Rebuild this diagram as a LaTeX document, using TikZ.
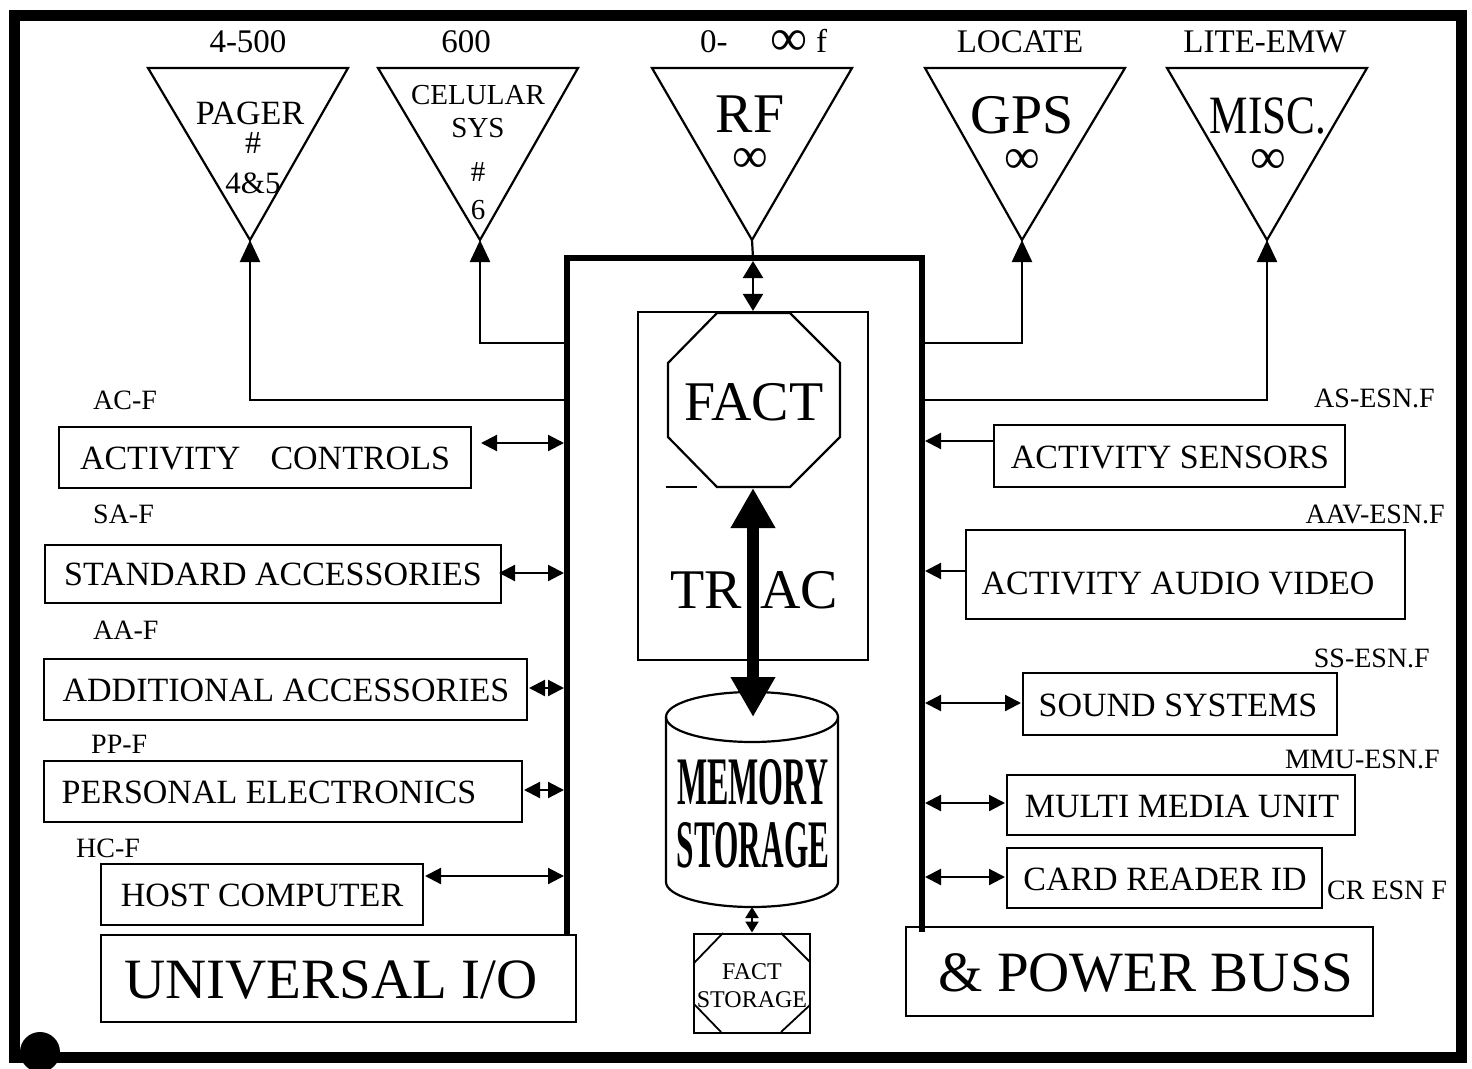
\documentclass[tikz,border=0pt]{standalone}
\usepackage{fontspec}
\setmainfont{Liberation Serif}
\usetikzlibrary{arrows.meta,calc}
\newcommand\fsz[1]{\fontsize{#1}{#1}\selectfont}
\begin{document}
\begin{tikzpicture}[x=1pt,y=-1pt,
  frame/.style={line width=11pt},
  bus/.style={line width=6pt,line join=miter},
  wire/.style={line width=2.2pt},
  shapeline/.style={line width=2.2pt},
  box/.style={draw,line width=2.4pt,inner sep=0pt},
  lbl/.style={inner sep=0pt,font=\fsz{28}},
  toplbl/.style={inner sep=0pt,font=\fsz{33}},
  boxtext/.style={inner sep=0pt,font=\fsz{34}},
  bigtext/.style={inner sep=0pt,font=\fsz{57}},
  anttext/.style={inner sep=0pt,align=center,anchor=north,font=\fsz{56}},
  dbl/.style={wire,{Triangle[length=16pt,width=16pt]}-{Triangle[length=16pt,width=16pt]}},
  sgl/.style={wire,-{Triangle[length=16pt,width=16pt]}},
  uparrow/.style={wire,-{Triangle[length=22pt,width=20pt]}},
]
\useasboundingbox (0,0) rectangle (1472,1068);
\fill[white] (0,0) rectangle (1472,1068);

% outer frame
\draw[frame] (14,15) rectangle (1461,1057);
\fill (40,1052) circle[radius=20pt];

% ---------- antennas ----------
\node[toplbl] (l1) at (248,42) {4-500};
\node[toplbl] (l2) at (466,42) {600};
\node[toplbl,anchor=west] (l3) at (700,42) {0-\hspace{43pt}\raisebox{-3pt}{\fsz{52}∞} f};
\node[toplbl] (l4) at (1020,42) {LOCATE};
\node[toplbl] (l5) at (1265,42) {LITE-EMW};

\draw[shapeline] (148,68) -- (348,68) -- (250,240) -- cycle;
\coordinate (pagerTip) at (250,240);
\node[inner sep=0pt,font=\fsz{34}] (pg1) at (250,113) {PAGER};
\node[inner sep=0pt,font=\fsz{32}] (pg2) at (253,143) {\#};
\node[inner sep=0pt,font=\fsz{31}] (pg3) at (253,183) {4\&5};

\draw[shapeline] (378,68) -- (578,68) -- (480,240) -- cycle;
\coordinate (celTip) at (480,240);
\node[inner sep=0pt,font=\fsz{29}] (ce1) at (478,95) {CELULAR};
\node[inner sep=0pt,font=\fsz{29}] (ce2) at (478,128) {SYS};
\node[inner sep=0pt,font=\fsz{29}] (ce3) at (478,172) {\#};
\node[inner sep=0pt,font=\fsz{29}] (ce4) at (478,210) {6};

\draw[shapeline] (652,68) -- (852,68) -- (752,240) -- cycle;
\coordinate (rfTip) at (752,240);
\node[anttext] (rf) at (750,96) {RF\\[-16pt]{\fsz{50}∞}};

\draw[shapeline] (925,68) -- (1125,68) -- (1022,240) -- cycle;
\coordinate (gpsTip) at (1022,240);
\node[anttext] (gps) at (1022,96) {GPS\\[-16pt]{\fsz{50}∞}};

\draw[shapeline] (1167,68) -- (1367,68) -- (1267,240) -- cycle;
\coordinate (miscTip) at (1267,240);
\node[anttext] (misc) at (1268,98) {\scalebox{0.8}[1]{\fsz{54}MISC.}\\[-16pt]{\fsz{50}∞}};

% ---------- bus ----------
\draw[bus] (567,935) -- (567,258) -- (922,258) -- (922,932);
\coordinate (bL) at (564,258);
\coordinate (bR) at (925,258);
\coordinate (busRF) at (753,258);

\coordinate (tapPager) at (567,400);
\coordinate (tapCel) at (567,343);
\coordinate (tapGps) at (922,343);
\coordinate (tapMisc) at (922,400);
\draw[uparrow] (tapPager) -| (pagerTip);
\draw[uparrow] (tapCel) -| (celTip);
\draw[uparrow] (tapGps) -| (gpsTip);
\draw[uparrow] (tapMisc) -| (miscTip);

% ---------- FACT / TRAC ----------
\node[box,line width=2.2pt,minimum width=230pt,minimum height=348pt] (fbox) at (753,486) {};
\draw[wire] (rfTip) -- (busRF);
\draw[wire,{Triangle[length=17pt,width=20pt]}-{Triangle[length=17pt,width=20pt]}] ($(busRF)+(0,3)$) -- (fbox.north);
\draw[shapeline] (717,313) -- (790,313) -- (840,363) -- (840,437) -- (790,487) -- (717,487) -- (668,437) -- (668,363) -- cycle;
\node[inner sep=0pt,font=\fsz{56}] (fact) at (754,402) {FACT};
\draw[wire] (666,487) -- (697,487);
\node[inner sep=0pt,font=\fsz{56},anchor=east] (tr1) at (742,590) {TR};
\node[inner sep=0pt,font=\fsz{56},anchor=west] (tr2) at (760,590) {AC};
\coordinate (octBot) at (753,488);

% ---------- memory ----------
\draw[shapeline] (666,717) -- (666,882) arc[start angle=180,end angle=360,x radius=86pt,y radius=25pt] -- (838,717);
\draw[shapeline] (752,717) ellipse[x radius=86pt,y radius=25pt];
\coordinate (memTop) at (753,717);
\coordinate (memBot) at (752,907);
\node[inner sep=0pt] (mem1) at (753,782) {\scalebox{0.47}[1]{\fsz{68}\bfseries MEMORY}};
\node[inner sep=0pt] (mem2) at (753,845) {\scalebox{0.46}[1]{\fsz{68}\bfseries STORAGE}};
\draw[line width=12pt,{Triangle[length=40pt,width=42pt]}-{Triangle[length=40pt,width=42pt]}] (octBot) -- (memTop);

% ---------- FACT STORAGE ----------
\node[box,line width=2pt,minimum width=116pt,minimum height=99pt] (fs) at (752,983) {};
\draw[shapeline,line width=1.8pt] (694,963) -- (723,933) (781,933) -- (810,962) (694,1004) -- (721,1032) (781,1032) -- (810,1005);
\node[inner sep=0pt,font=\fsz{24}] (fs1) at (752,972) {FACT};
\node[inner sep=0pt,font=\fsz{24}] (fs2) at (752,1000) {STORAGE};
\draw[wire,{Triangle[length=11pt,width=13pt]}-{Triangle[length=11pt,width=13pt]}] (memBot) -- (fs.north);

% ---------- left side ----------
\node[lbl,anchor=west] (lac) at (93,400) {AC-F};
\node[box,minimum width=412pt,minimum height=61pt] (act) at (265,457.5) {};
\node[boxtext] (actt) at (265,458) {ACTIVITY\hspace{30pt}CONTROLS};
\node[lbl,anchor=west] (lsa) at (93,514) {SA-F};
\node[box,minimum width=456pt,minimum height=58pt] (sa) at (273,574) {};
\node[boxtext] (sat) at (273,574) {STANDARD ACCESSORIES};
\node[lbl,anchor=west] (laa) at (93,630) {AA-F};
\node[box,minimum width=483pt,minimum height=61pt] (aa) at (285.5,689.5) {};
\node[boxtext] (aat) at (286,690) {ADDITIONAL ACCESSORIES};
\node[lbl,anchor=west] (lpp) at (91,744) {PP-F};
\node[box,minimum width=478pt,minimum height=61pt] (pe) at (283,791.5) {};
\node[boxtext] (pet) at (269,792) {PERSONAL ELECTRONICS};
\node[lbl,anchor=west] (lhc) at (76,848) {HC-F};
\node[box,minimum width=322pt,minimum height=61pt] (hc) at (262,894.5) {};
\node[boxtext] (hct) at (262,895) {HOST COMPUTER};
\node[box,minimum width=475pt,minimum height=87pt] (uio) at (338.5,978.5) {};
\node[bigtext] (uiot) at (331,980) {UNIVERSAL I/O};

\coordinate (pAct) at (481,443);
\coordinate (pSa) at (499,573);
\coordinate (pAa) at (529,688);
\coordinate (pPe) at (524,790);
\coordinate (pHc) at (425,876);
\draw[dbl] (pAct) -- (pAct -| bL);
\draw[dbl] (pSa) -- (pSa -| bL);
\draw[dbl] (pAa) -- (pAa -| bL);
\draw[dbl] (pPe) -- (pPe -| bL);
\draw[dbl] (pHc) -- (pHc -| bL);

% ---------- right side ----------
\node[lbl,anchor=east] (las) at (1435,398) {AS-ESN.F};
\node[box,minimum width=351pt,minimum height=62pt] (as) at (1169.5,456) {};
\node[boxtext] (ast) at (1170,457) {ACTIVITY SENSORS};
\node[lbl,anchor=east] (laav) at (1445,514) {AAV-ESN.F};
\node[box,minimum width=439pt,minimum height=89pt] (aav) at (1185.5,574.5) {};
\node[boxtext] (aavt) at (1178,583) {ACTIVITY AUDIO VIDEO};
\node[lbl,anchor=east] (lss) at (1430,658) {SS-ESN.F};
\node[box,minimum width=314pt,minimum height=62pt] (ss) at (1180,704) {};
\node[boxtext] (sst) at (1178,705) {SOUND SYSTEMS};
\node[lbl,anchor=east] (lmmu) at (1440,759) {MMU-ESN.F};
\node[box,minimum width=348pt,minimum height=60pt] (mmu) at (1181,805) {};
\node[boxtext] (mmut) at (1182,806) {MULTI MEDIA UNIT};
\node[box,minimum width=315pt,minimum height=60pt] (cr) at (1164.5,878) {};
\node[boxtext] (crt) at (1165,879) {CARD READER ID};
\node[lbl,anchor=west] (lcr) at (1327,890) {CR ESN F};
\node[box,minimum width=467pt,minimum height=89pt] (pb) at (1139.5,971.5) {};
\node[bigtext] (pbt) at (1146,973) {\& POWER BUSS};

\coordinate (pAs) at (994,441);
\coordinate (pAav) at (966,571);
\coordinate (pSs) at (1021,703);
\coordinate (pMmu) at (1005,803);
\coordinate (pCr) at (1005,877);
\draw[sgl] (pAs) -- (pAs -| bR);
\draw[sgl] (pAav) -- (pAav -| bR);
\draw[dbl] (pSs) -- (pSs -| bR);
\draw[dbl] (pMmu) -- (pMmu -| bR);
\draw[dbl] (pCr) -- (pCr -| bR);
\end{tikzpicture}
\end{document}
